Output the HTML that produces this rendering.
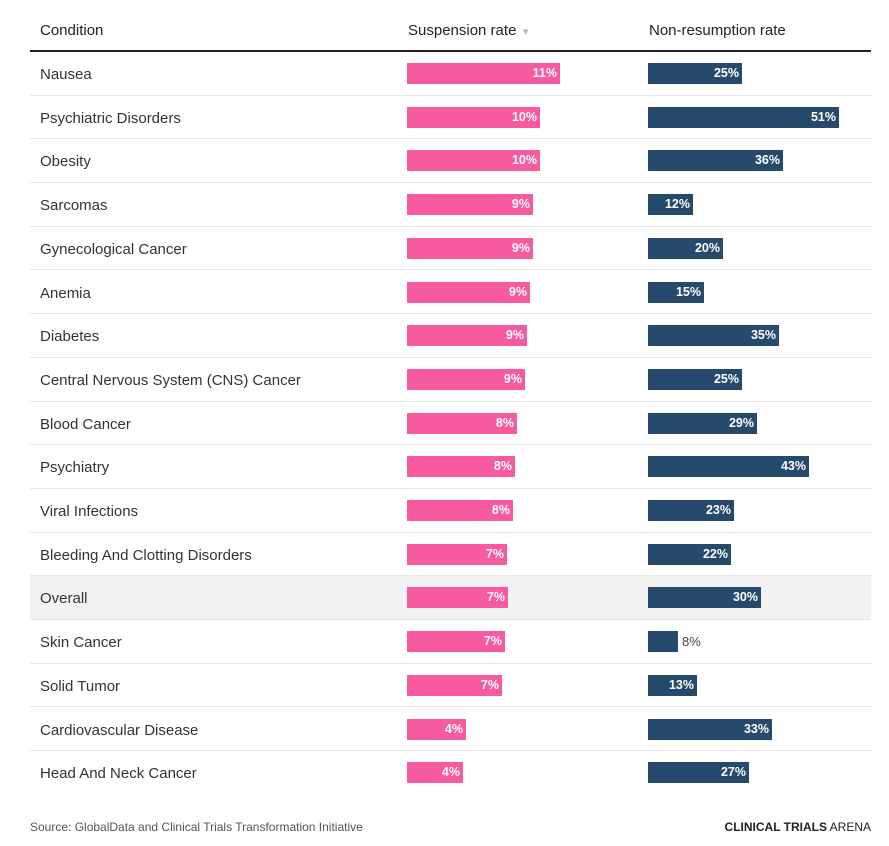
<!DOCTYPE html>
<html><head><meta charset="utf-8"><style>
body{margin:0;width:889px;height:846px;background:#fff;font-family:"Liberation Sans",sans-serif;position:relative;overflow:hidden}
.h{position:absolute;top:22px;font-size:15px;color:#222}
.line{position:absolute;left:30px;width:841px;top:50px;height:2px;background:#222}
.row{position:absolute;left:30px;width:841px;height:43.7px;border-bottom:1px solid #e6e6e6;box-sizing:border-box}
.row .t{position:absolute;left:10px;top:14px;font-size:15px;color:#333}
.b{position:absolute;top:11px;height:21px;font-size:12.5px;font-weight:bold;color:#fff;text-align:right;box-sizing:border-box;padding-right:3px;line-height:21px}
.p{left:377px;background:#f85a9f}
.n{left:618px;background:#264a6c}
.o{position:absolute;top:11px;line-height:21px;font-size:13px;color:#444}
.foot{position:absolute;top:820px;font-size:12px;color:#555}
</style></head><body>
<div class="h" style="left:40px">Condition</div>
<div class="h" style="left:408px">Suspension rate <span style="color:#bbb;font-size:10px">▼</span></div>
<div class="h" style="left:649px">Non-resumption rate</div>
<div class="line"></div>
<div id="rows"></div>
<script>
var d=[["Nausea",153,11,25],["Psychiatric Disorders",133,10,51],["Obesity",133,10,36],["Sarcomas",126,9,12],["Gynecological Cancer",126,9,20],["Anemia",123,9,15],["Diabetes",120,9,35],["Central Nervous System (CNS) Cancer",118,9,25],["Blood Cancer",110,8,29],["Psychiatry",108,8,43],["Viral Infections",106,8,23],["Bleeding And Clotting Disorders",100,7,22],["Overall",101,7,30],["Skin Cancer",98,7,8],["Solid Tumor",95,7,13],["Cardiovascular Disease",59,4,33],["Head And Neck Cancer",56,4,27]];
var h="";
d.forEach(function(r,i){
var top=52+i*43.7;var nw=Math.round(3.75*r[3]);
h+='<div class="row" style="top:'+top+'px;'+(r[0]=="Overall"?'background:#f2f2f2;':'')+(i==16?'border-bottom:none;':'')+'"><div class="t">'+r[0]+'</div><div class="b p" style="width:'+r[1]+'px">'+r[2]+'%</div>';
if(r[3]<10){h+='<div class="b n" style="width:'+nw+'px"></div><div class="o" style="left:'+(618+nw+4)+'px">'+r[3]+'%</div>';}
else h+='<div class="b n" style="width:'+nw+'px">'+r[3]+'%</div>';
h+='</div>';});
document.getElementById("rows").innerHTML=h;
</script>
<div class="foot" style="left:30px">Source: GlobalData and Clinical Trials Transformation Initiative</div>
<div class="foot" style="right:18px;color:#222"><b>CLINICAL TRIALS</b> ARENA</div>
</body></html>
